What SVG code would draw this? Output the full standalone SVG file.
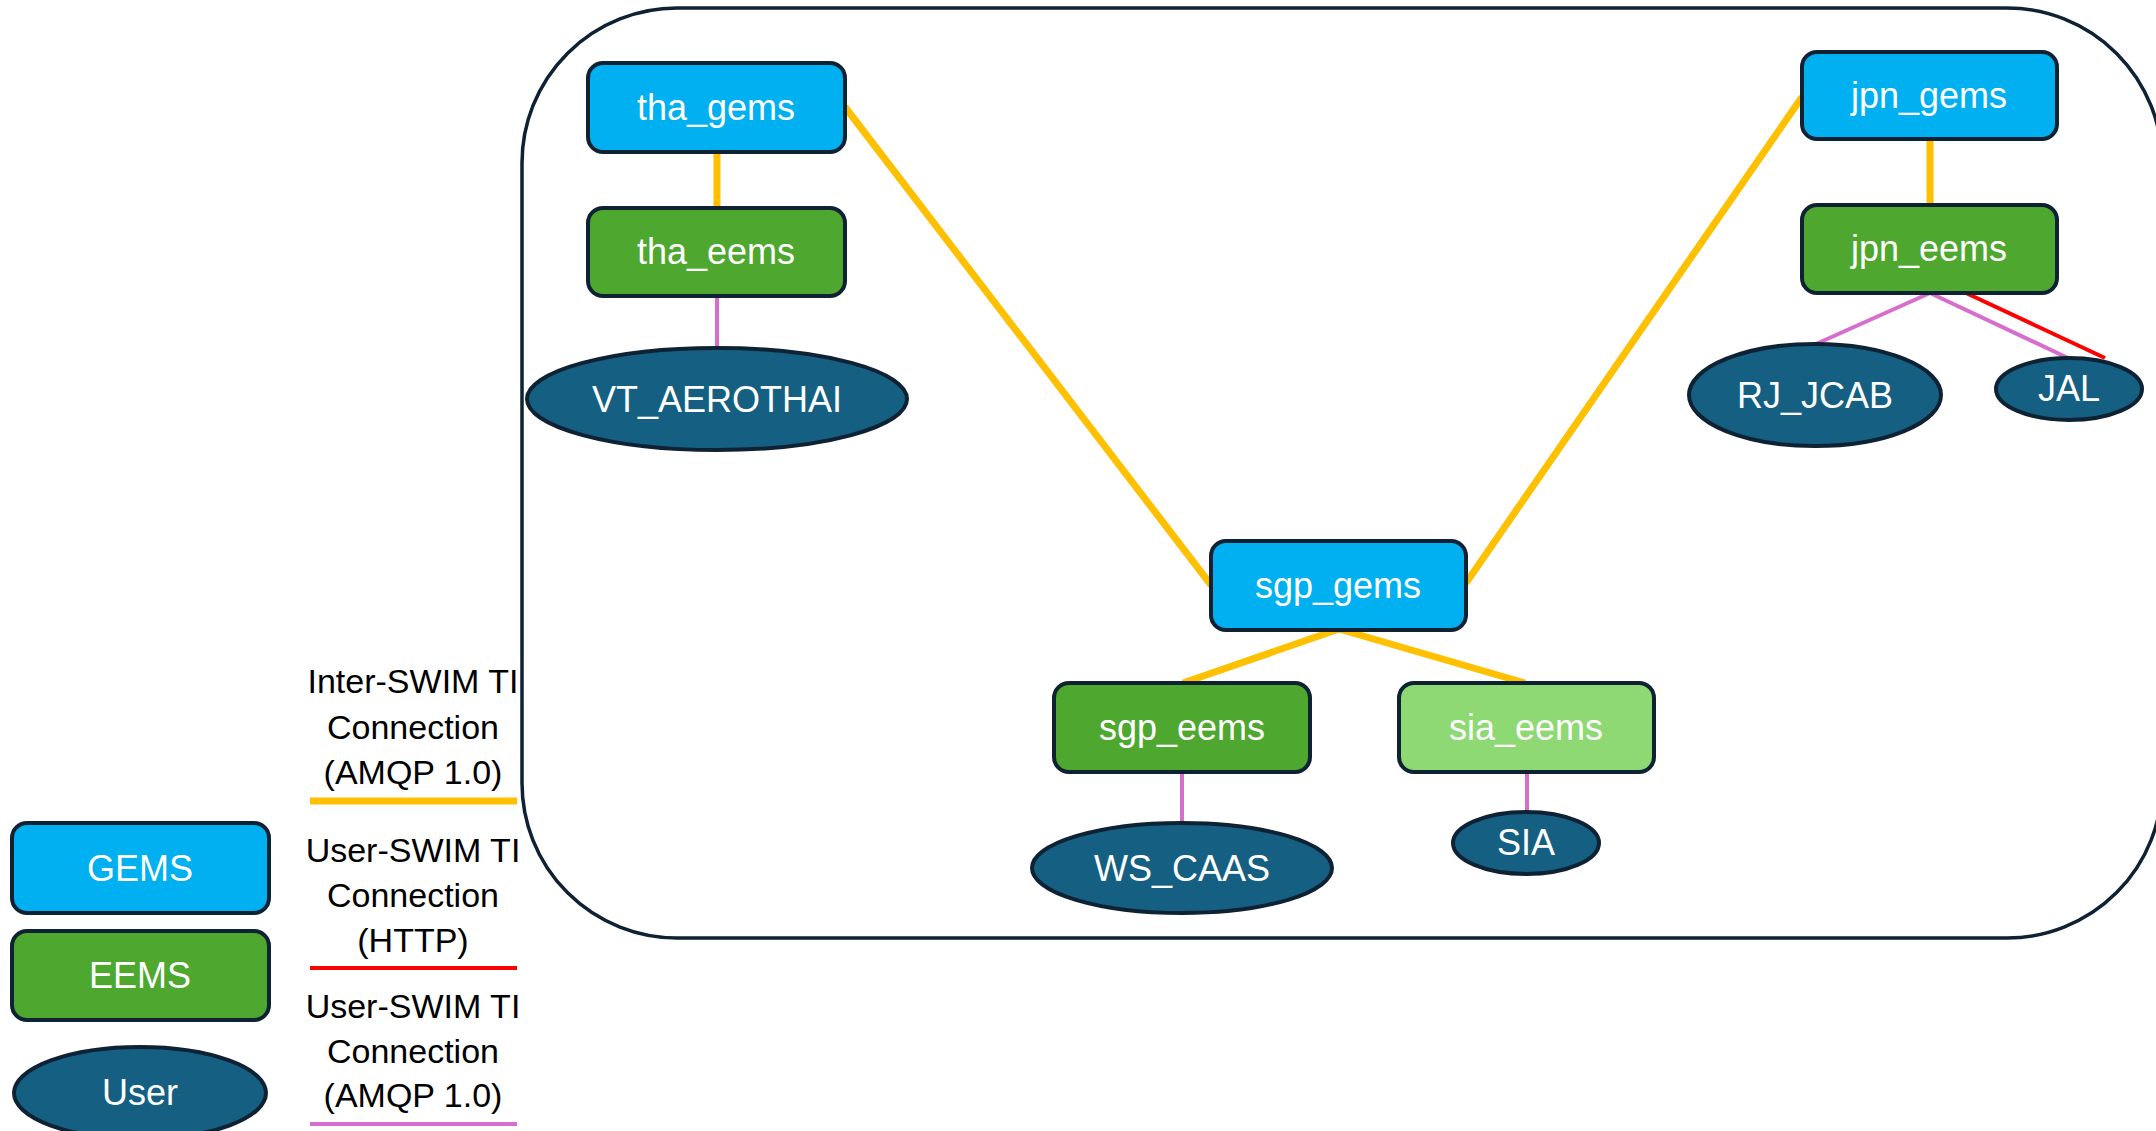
<svg xmlns="http://www.w3.org/2000/svg" width="2156" height="1131" viewBox="0 0 2156 1131">
<style>
  .gems { fill: #00B0F0; stroke: #0E2233; stroke-width: 4; }
  .eems { fill: #4EA72E; stroke: #0E2233; stroke-width: 4; }
  .eemsl { fill: #8ED973; stroke: #0E2233; stroke-width: 4; }
  .user { fill: #156082; stroke: #0E2233; stroke-width: 4; }
  .lbl { font-family: "Liberation Sans", Arial, sans-serif; font-size: 36px; fill: #FFFFFF; text-anchor: middle; }
  .leg { font-family: "Liberation Sans", Arial, sans-serif; font-size: 34px; fill: #000000; text-anchor: middle; }
  .inter { stroke: #FFC000; stroke-width: 7; fill: none; }
  .http { stroke: #FF0000; stroke-width: 4; fill: none; }
  .amqp { stroke: #D86ECC; stroke-width: 4; fill: none; }
</style>
<rect width="2156" height="1131" fill="#FFFFFF"/>
<rect id="container" x="522" y="8" width="1640" height="930" rx="155" ry="155" fill="none" stroke="#0E2233" stroke-width="3.5"/>
<g id="connectors">
  <line class="inter" x1="717" y1="152" x2="717" y2="208"/>
  <line class="inter" x1="1930" y1="139" x2="1930" y2="205"/>
  <line class="inter" x1="845" y1="107" x2="1211" y2="585"/>
  <line class="inter" x1="1802" y1="97" x2="1466" y2="583"/>
  <line class="inter" x1="1339" y1="629" x2="1183" y2="683"/>
  <line class="inter" x1="1339" y1="629" x2="1525" y2="683"/>
  <line class="amqp" x1="717" y1="296" x2="717" y2="348"/>
  <line class="amqp" x1="1930" y1="293" x2="1816" y2="344"/>
  <line class="amqp" x1="1930" y1="293" x2="2068" y2="358"/>
  <line class="http" x1="1966" y1="293" x2="2105" y2="358"/>
  <line class="amqp" x1="1182" y1="772" x2="1182" y2="823"/>
  <line class="amqp" x1="1527" y1="772" x2="1527" y2="813"/>
</g>
<g id="tha_gems"><rect class="gems" x="588" y="63" width="257" height="89" rx="15"/><text class="lbl" x="716" y="120">tha_gems</text></g>
<g id="tha_eems"><rect class="eems" x="588" y="208" width="257" height="88" rx="15"/><text class="lbl" x="716" y="264">tha_eems</text></g>
<g id="VT_AEROTHAI"><ellipse class="user" cx="717" cy="399" rx="190" ry="51"/><text class="lbl" x="717" y="412">VT_AEROTHAI</text></g>
<g id="jpn_gems"><rect class="gems" x="1802" y="52" width="255" height="87" rx="15"/><text class="lbl" x="1929" y="108">jpn_gems</text></g>
<g id="jpn_eems"><rect class="eems" x="1802" y="205" width="255" height="88" rx="15"/><text class="lbl" x="1929" y="261">jpn_eems</text></g>
<g id="RJ_JCAB"><ellipse class="user" cx="1815" cy="395" rx="126" ry="51"/><text class="lbl" x="1815" y="408">RJ_JCAB</text></g>
<g id="JAL"><ellipse class="user" cx="2069" cy="389" rx="73" ry="31"/><text class="lbl" x="2069" y="401">JAL</text></g>
<g id="sgp_gems"><rect class="gems" x="1211" y="541" width="255" height="89" rx="15"/><text class="lbl" x="1338" y="598">sgp_gems</text></g>
<g id="sgp_eems"><rect class="eems" x="1054" y="683" width="256" height="89" rx="15"/><text class="lbl" x="1182" y="740">sgp_eems</text></g>
<g id="sia_eems"><rect class="eemsl" x="1399" y="683" width="255" height="89" rx="15"/><text class="lbl" x="1526" y="740">sia_eems</text></g>
<g id="WS_CAAS"><ellipse class="user" cx="1182" cy="868" rx="150" ry="45"/><text class="lbl" x="1182" y="881">WS_CAAS</text></g>
<g id="SIA"><ellipse class="user" cx="1526" cy="843" rx="73" ry="31"/><text class="lbl" x="1526" y="855">SIA</text></g>
<g id="legend">
  <g id="legend_gems"><rect class="gems" x="12" y="823" width="257" height="90" rx="15"/><text class="lbl" x="140" y="881">GEMS</text></g>
  <g id="legend_eems"><rect class="eems" x="12" y="931" width="257" height="89" rx="15"/><text class="lbl" x="140" y="988">EEMS</text></g>
  <g id="legend_user"><ellipse class="user" cx="140" cy="1093" rx="126" ry="46"/><text class="lbl" x="140" y="1105">User</text></g>
  <text class="leg" x="413" y="693">Inter-SWIM TI</text>
  <text class="leg" x="413" y="739">Connection</text>
  <text class="leg" x="413" y="784">(AMQP 1.0)</text>
  <line class="inter" x1="310" y1="801" x2="517" y2="801"/>
  <text class="leg" x="413" y="862">User-SWIM TI</text>
  <text class="leg" x="413" y="907">Connection</text>
  <text class="leg" x="413" y="952">(HTTP)</text>
  <line class="http" x1="310" y1="968" x2="517" y2="968"/>
  <text class="leg" x="413" y="1018">User-SWIM TI</text>
  <text class="leg" x="413" y="1063">Connection</text>
  <text class="leg" x="413" y="1107">(AMQP 1.0)</text>
  <line class="amqp" x1="310" y1="1124" x2="517" y2="1124"/>
</g>
</svg>
